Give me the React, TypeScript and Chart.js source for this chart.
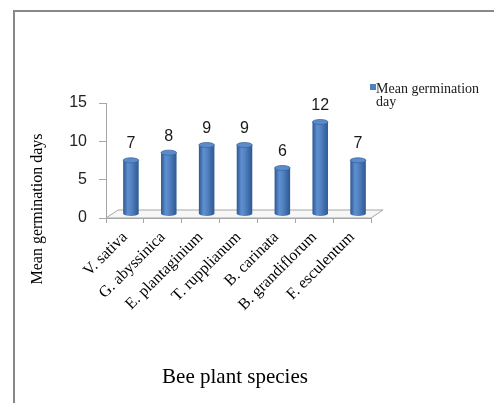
import { useEffect, useRef } from 'react';
import { Chart, registerables } from 'chart.js';

Chart.register(...registerables);

const categories = [
  'V. sativa',
  'G. abyssinica',
  'E. plantaginium',
  'T. rupplianum',
  'B. carinata',
  'B. grandiflorum',
  'F. esculentum',
];
const meanDays = [7, 8, 9, 9, 6, 12, 7];
const yTickValues = [0, 5, 10, 15];
const seriesLabel = 'Mean germination day';
const yTitle = 'Mean germination days';
const xTitle = 'Bee plant species';

const W = 494;
const H = 403;
const AREA_LEFT = 106;
const AREA_RIGHT = 371;
const AREA_TOP = 103;
const AREA_BOTTOM = 218;
const DEPTH_X = 12;
const DEPTH_Y = -8;
const SERIF = '"Liberation Serif", "Times New Roman", serif';
const SANS = '"Liberation Sans", Arial, sans-serif';

const decorPlugin = {
  id: 'decor',
  beforeDraw(chart: any) {
    const ctx = chart.ctx;
    ctx.save();
    ctx.fillStyle = '#ffffff';
    ctx.fillRect(0, 0, W, H);
    ctx.fillStyle = '#888888';
    ctx.fillRect(13, 10, W - 13, 2);
    ctx.fillRect(13, 10, 2, H - 10);
    ctx.restore();
  },
  beforeDatasetsDraw(chart: any) {
    const ctx = chart.ctx;
    const a = chart.chartArea;
    ctx.save();
    ctx.beginPath();
    ctx.moveTo(a.left, a.bottom);
    ctx.lineTo(a.right, a.bottom);
    ctx.lineTo(a.right + DEPTH_X, a.bottom + DEPTH_Y);
    ctx.lineTo(a.left + DEPTH_X, a.bottom + DEPTH_Y);
    ctx.closePath();
    ctx.fillStyle = '#f7f7f7';
    ctx.fill();
    ctx.strokeStyle = '#a6a6a6';
    ctx.lineWidth = 1;
    ctx.stroke();
    ctx.restore();
  },
  afterDatasetsDraw(chart: any) {
    const ctx = chart.ctx;
    const meta = chart.getDatasetMeta(0);
    const offX = DEPTH_X / 2;
    const offY = DEPTH_Y / 2;
    ctx.save();
    meta.data.forEach((el: any, i: number) => {
      const cx = el.x + offX;
      const top = el.y + offY;
      const bottom = el.base + offY;
      const rx = el.width / 2;
      const ry = 2.5;
      const g = ctx.createLinearGradient(cx - rx, 0, cx + rx, 0);
      g.addColorStop(0, '#2c5891');
      g.addColorStop(0.3, '#5e8fcf');
      g.addColorStop(0.5, '#5585c4');
      g.addColorStop(1, '#2d5892');
      ctx.beginPath();
      ctx.moveTo(cx - rx, top);
      ctx.lineTo(cx - rx, bottom);
      ctx.ellipse(cx, bottom, rx, ry, 0, Math.PI, 0, true);
      ctx.lineTo(cx + rx, top);
      ctx.closePath();
      ctx.fillStyle = g;
      ctx.fill();
      ctx.beginPath();
      ctx.ellipse(cx, top, rx, ry, 0, 0, Math.PI * 2);
      ctx.fillStyle = '#5d8bca';
      ctx.fill();
      ctx.strokeStyle = '#3b67a3';
      ctx.lineWidth = 0.8;
      ctx.stroke();
      ctx.fillStyle = '#1a1a1a';
      ctx.font = `16px ${SANS}`;
      ctx.textAlign = 'center';
      ctx.textBaseline = 'alphabetic';
      ctx.fillText(String(meanDays[i]), cx, top - 12);
    });
    ctx.restore();
  },
  afterDraw(chart: any) {
    const ctx = chart.ctx;
    ctx.save();
    ctx.fillStyle = '#000000';
    ctx.font = `16px ${SERIF}`;
    ctx.textAlign = 'center';
    ctx.textBaseline = 'middle';
    ctx.translate(38, 209);
    ctx.rotate(-Math.PI / 2);
    ctx.fillText(yTitle, 0, 0);
    ctx.restore();

    ctx.save();
    ctx.fillStyle = '#000000';
    ctx.font = `21px ${SERIF}`;
    ctx.textAlign = 'center';
    ctx.textBaseline = 'middle';
    ctx.fillText(xTitle, 235, 377);

    ctx.fillStyle = '#4f81bd';
    ctx.fillRect(370, 84, 6, 6);
    ctx.font = `14px ${SERIF}`;
    ctx.textAlign = 'left';
    ctx.textBaseline = 'alphabetic';
    ctx.fillStyle = '#1a1a1a';
    const words = seriesLabel.split(' ');
    const lines: string[] = [];
    let cur = '';
    words.forEach((w) => {
      const t = cur ? cur + ' ' + w : w;
      if (ctx.measureText(t).width > 112 && cur) {
        lines.push(cur);
        cur = w;
      } else cur = t;
    });
    if (cur) lines.push(cur);
    lines.forEach((l, i) => ctx.fillText(l, 376, 93 + i * 13));
    ctx.restore();
  },
};

export default function App() {
  const ref = useRef<HTMLCanvasElement | null>(null);
  useEffect(() => {
    if (!ref.current) return;
    const chart = new Chart(ref.current, {
      type: 'bar',
      data: {
        labels: categories,
        datasets: [
          {
            label: seriesLabel,
            data: meanDays,
            backgroundColor: 'rgba(0,0,0,0)',
            borderWidth: 0,
            categoryPercentage: 1,
            barPercentage: 0.41,
          },
        ],
      },
      options: {
        responsive: false,
        animation: false,
        devicePixelRatio: 1,
        layout: { padding: { left: 0, right: W - AREA_RIGHT, top: AREA_TOP, bottom: 0 } },
        plugins: { legend: { display: false }, tooltip: { enabled: false } },
        scales: {
          x: {
            grid: { drawOnChartArea: false, offset: true, tickLength: 5, color: '#a6a6a6' },
            border: { color: '#a6a6a6' },
            ticks: {
              minRotation: 45,
              maxRotation: 45,
              padding: 5,
              color: '#000000',
              font: { family: SERIF, size: 16 },
            },
            afterFit: (s: any) => {
              s.height = H - AREA_BOTTOM;
            },
          },
          y: {
            min: 0,
            max: 15,
            afterBuildTicks: (s: any) => {
              s.ticks = yTickValues.map((v) => ({ value: v }));
            },
            grid: { drawOnChartArea: false, tickLength: 7, color: '#a6a6a6' },
            border: { color: '#a6a6a6' },
            ticks: {
              padding: 12,
              color: '#222222',
              font: { family: SANS, size: 16 },
            },
            afterFit: (s: any) => {
              s.width = AREA_LEFT;
            },
          },
        },
      },
      plugins: [decorPlugin],
    });
    return () => chart.destroy();
  }, []);
  return (
    <div style={{ position: 'fixed', left: 0, top: 0, width: W, height: H, background: '#fff' }}>
      <canvas ref={ref} width={W} height={H} style={{ display: 'block' }} />
    </div>
  );
}
